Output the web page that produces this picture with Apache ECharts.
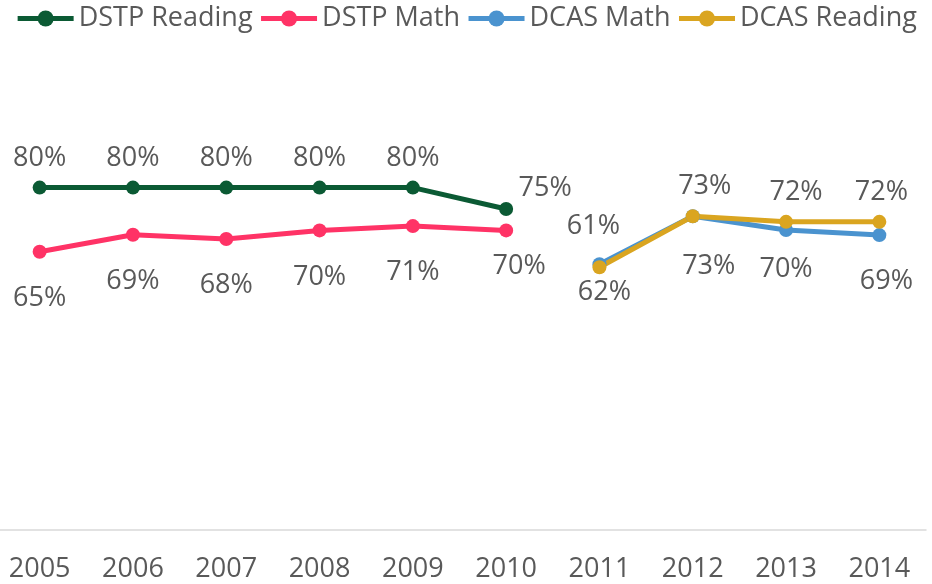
<!DOCTYPE html>
<html>
<head>
<meta charset="utf-8">
<script src="https://cdn.jsdelivr.net/npm/echarts@6/dist/echarts.min.js"></script>
<style>
	html, body { margin: 0; padding: 0; background: #fff; }
	#chart { width: 932px; height: 584px; }
</style>
</head>
<body>
<div id="chart"></div>
<script>
var years = ['2005', '2006', '2007', '2008', '2009', '2010', '2011', '2012', '2013', '2014'];
var dstpReading = [80, 80, 80, 80, 80, 75, null, null, null, null];
var dstpMath = [65, 69, 68, 70, 71, 70, null, null, null, null];
var dcasMath = [null, null, null, null, null, null, 62.1, 73.3, 70.1, 68.9];
var dcasReading = [null, null, null, null, null, null, 61.4, 73.3, 72, 72];
// label text as printed on the chart
var dcasMathLabels = [null, null, null, null, null, null, '61%', '73%', '70%', '69%'];
var dcasReadingLabels = [null, null, null, null, null, null, '62%', '73%', '72%', '72%'];

var labelFont = { fontFamily: 'Open Sans', fontSize: 27, color: '#595959' };

// per point label placement
function pts(values, texts, pos, tweaks) {
	return values.map(function (v, i) {
		if (v == null) return null;
		var t = tweaks[i] || {};
		return {
			value: v,
			label: {
				position: t.position || pos,
				offset: t.offset || [0, 0],
				formatter: texts ? texts[i] : Math.round(v) + '%'
			}
		};
	});
}

function lineSeries(name, color, data, pos, distance) {
	return {
		name: name,
		type: 'line',
		data: data,
		connectNulls: false,
		symbol: 'circle',
		symbolSize: 14,
		lineStyle: { width: 5, color: color },
		itemStyle: { color: color },
		label: Object.assign({ show: true, position: pos, distance: distance }, labelFont),
		emphasis: { disabled: true }
	};
}

var chart = echarts.init(document.getElementById('chart'));
var option = {
	animation: false,
	legend: {
		top: 5,
		left: 'center',
		padding: 0,
		itemWidth: 56,
		itemHeight: 20,
		itemGap: 6,
		lineStyle: { width: 5 },
		textStyle: { fontFamily: 'Open Sans', fontSize: 27, color: '#595959' },
		data: ['DSTP Reading', 'DSTP Math', 'DCAS Math', 'DCAS Reading']
	},
	grid: {
		left: -7,
		right: 6,
		top: 102,
		bottom: 54,
		containLabel: false,
		outerBoundsMode: 'none'
	},
	xAxis: {
		type: 'category',
		data: years,
		boundaryGap: true,
		axisLine: { lineStyle: { color: '#d9d9d9', width: 1.5 } },
		axisTick: { show: false },
		axisLabel: { margin: 26, fontFamily: 'Open Sans', fontSize: 27, color: '#595959' }
	},
	yAxis: {
		type: 'value',
		min: 0,
		max: 100,
		show: false,
		splitLine: { show: false }
	},
	series: [
		lineSeries('DSTP Reading', '#0b5a34',
			pts(dstpReading, null, 'top', { 5: { offset: [39, 9] } }), 'top', 9),
		lineSeries('DSTP Math', '#ff3366',
			pts(dstpMath, null, 'bottom', { 5: { offset: [13, -11] } }), 'bottom', 26),
		lineSeries('DCAS Math', '#4a93cf',
			pts(dcasMath, dcasMathLabels, 'bottom', {
				6: { position: 'top', offset: [-6, 9] },
				7: { offset: [16, 4] },
				8: { offset: [0, -7] },
				9: { offset: [7, 0] }
			}), 'bottom', 26),
		lineSeries('DCAS Reading', '#daa520',
			pts(dcasReading, dcasReadingLabels, 'top', {
				6: { position: 'bottom', offset: [5, -4] },
				7: { offset: [12, 0] },
				8: { offset: [10, 0] },
				9: { offset: [2, 0] }
			}), 'top', 9)
	]
};
chart.setOption(option);
</script>
</body>
</html>
